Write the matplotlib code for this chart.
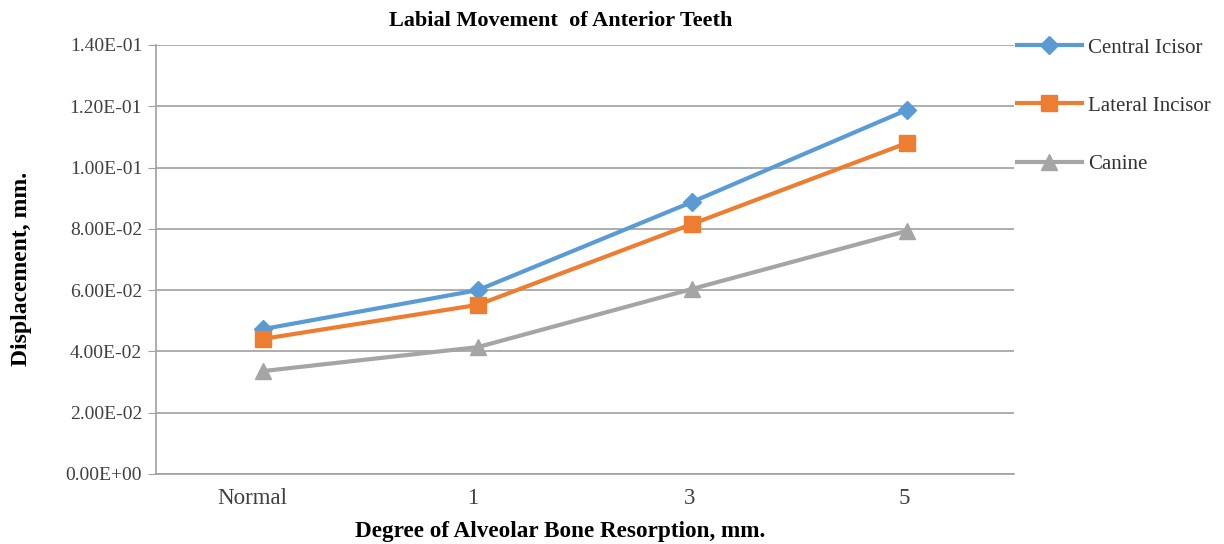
import matplotlib
matplotlib.use("Agg")
import matplotlib.pyplot as plt
import matplotlib.transforms as mtransforms
import numpy as np

categories = ["Normal", "1", "3", "5"]
central = [0.0473, 0.0600, 0.0888, 0.1188]
lateral = [0.0441, 0.0552, 0.0816, 0.1080]
canine = [0.0336, 0.0414, 0.0604, 0.0793]
yticks = [0.0, 0.02, 0.04, 0.06, 0.08, 0.10, 0.12, 0.14]
ytick_labels = ["0.00E+00", "2.00E-02", "4.00E-02", "6.00E-02", "8.00E-02",
                "1.00E-01", "1.20E-01", "1.40E-01"]

plt.rcParams['font.family'] = ['Liberation Serif', 'DejaVu Serif']

W, H = 1224, 544
fig = plt.figure(figsize=(W/100, H/100), dpi=100)
ax = fig.add_axes([156/W, 1-474/H, (1014-156)/W, (474-45)/H])

x = np.arange(len(categories))
ax.plot(x, central, color="#5B9BD5", lw=3, marker="D", ms=9, label="Central Icisor")
ax.plot(x, lateral, color="#ED7D31", lw=3, marker="s", ms=12, label="Lateral Incisor")
ax.plot(x, canine, color="#A5A5A5", lw=3, marker="^", ms=12, label="Canine")

ax.set_xlim(-0.5, len(categories) - 0.5)
ax.set_ylim(0, 0.14)
ax.set_yticks(yticks)
ax.set_yticklabels(ytick_labels, fontsize=14, color="#404040")
ax.set_xticks(x)
ax.set_xticklabels(categories, fontsize=16.5, color="#404040")
ax.tick_params(axis="x", length=0, pad=10)
ax.tick_params(axis="y", length=6, color="#A0A0A0", pad=4)
# small leftward nudge of category labels as in the reference
for lbl, dx in zip(ax.get_xticklabels(), [-11, -5, -3, -2]):
    lbl.set_transform(lbl.get_transform() + mtransforms.ScaledTranslation(dx/100, 0, fig.dpi_scale_trans))
ax.grid(axis="y", color="#A0A0A0", lw=1.2)
ax.set_axisbelow(True)
for s in ["top", "right"]:
    ax.spines[s].set_visible(False)
for s in ["left", "bottom"]:
    ax.spines[s].set_color("#A0A0A0")
    ax.spines[s].set_linewidth(1.2)

fig.text(561/W, 1-21/H, "Labial Movement  of Anterior Teeth", fontsize=16,
         fontweight="bold", ha="center", va="center")
fig.text(560/W, 1-531/H, "Degree of Alveolar Bone Resorption, mm.", fontsize=16.7,
         fontweight="bold", ha="center", va="center")
fig.text(21/W, 1-269/H, "Displacement, mm.", fontsize=17, fontweight="bold",
         ha="center", va="center", rotation=90)

leg = fig.legend(loc="upper left", bbox_to_anchor=(1017/W, 1-38/H), frameon=False, fontsize=15,
                 labelspacing=1.85, handlelength=3.1, handletextpad=0.3,
                 borderaxespad=0, borderpad=0)
for t in leg.get_texts():
    t.set_color("#333333")

fig.savefig("out.png", dpi=100)
